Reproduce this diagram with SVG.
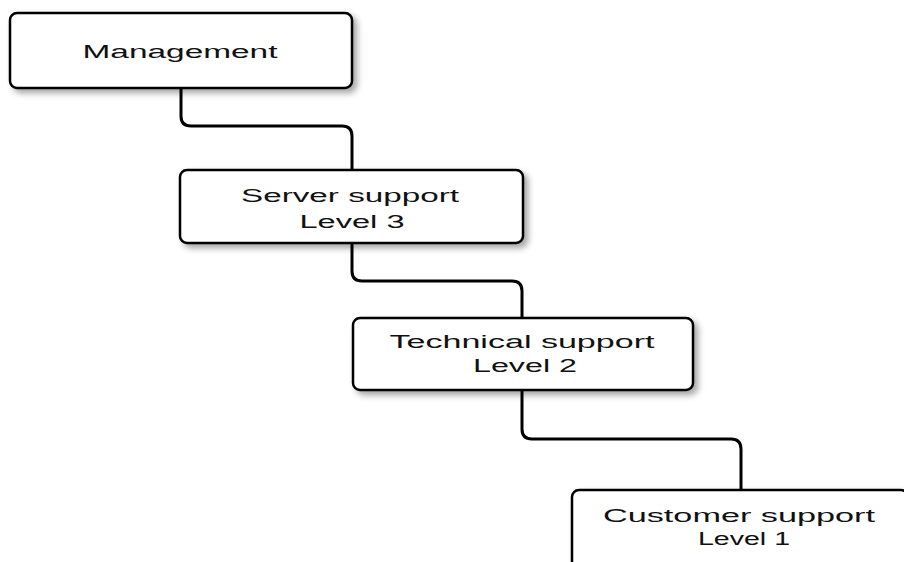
<svg xmlns="http://www.w3.org/2000/svg" width="904" height="562" viewBox="0 0 904 562">
  <style>
    .box { fill: #ffffff; stroke: #000000; stroke-width: 2.5; filter: url(#shadow); }
    .label { font-family: "Liberation Sans", Arial, sans-serif; font-size: 18px; fill: #111111; text-anchor: middle; }
    .link { fill: none; stroke: #000000; stroke-width: 3; }
  </style>
  <defs>
    <filter id="shadow" x="-10%" y="-20%" width="130%" height="160%">
      <feDropShadow dx="4" dy="4" stdDeviation="3" flood-color="#000000" flood-opacity="0.35"/>
    </filter>
  </defs>
  <rect width="904" height="562" fill="#ffffff"/>

  <g id="connectors">
    <path class="link" d="M181,88 V116 Q181,126 191,126 H342 Q352,126 352,136 V170"/>
    <path class="link" d="M352,243 V271 Q352,281 362,281 H512 Q522,281 522,291 V318"/>
    <path class="link" d="M522,390 V429 Q522,439 532,439 H731 Q741,439 741,449 V490"/>
  </g>

  <g id="management">
    <rect class="box" x="10" y="13" width="342" height="75" rx="7"/>
    <text class="label" x="180" y="58" textLength="195" lengthAdjust="spacingAndGlyphs">Management</text>
  </g>

  <g id="server-support">
    <rect class="box" x="180" y="170" width="343" height="73" rx="7"/>
    <text class="label" x="350" y="202" textLength="218" lengthAdjust="spacingAndGlyphs">Server support</text>
    <text class="label" x="352" y="228" textLength="105" lengthAdjust="spacingAndGlyphs">Level 3</text>
  </g>

  <g id="technical-support">
    <rect class="box" x="353" y="318" width="340" height="72" rx="7"/>
    <text class="label" x="522" y="348" textLength="265" lengthAdjust="spacingAndGlyphs">Technical support</text>
    <text class="label" x="525" y="372" textLength="104" lengthAdjust="spacingAndGlyphs">Level 2</text>
  </g>

  <g id="customer-support">
    <rect class="box" x="572" y="490" width="336" height="80" rx="7"/>
    <text class="label" x="739" y="522" textLength="272" lengthAdjust="spacingAndGlyphs">Customer support</text>
    <text class="label" x="744" y="545" textLength="92" lengthAdjust="spacingAndGlyphs">Level 1</text>
  </g>
</svg>
